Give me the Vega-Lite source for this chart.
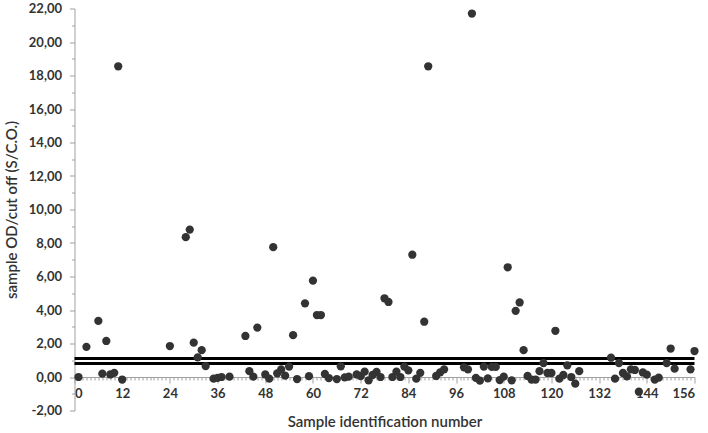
{
  "$schema": "https://vega.github.io/schema/vega-lite/v6.json",
  "width": 620,
  "height": 402,
  "autosize": {"type": "none"},
  "padding": {"left": 74.5, "top": 8.5, "right": 13.5, "bottom": 22.5},
  "background": "white",
  "config": {
    "locale": {"number": {"decimal": ",", "thousands": ".", "grouping": [3], "currency": ["", " €"], "minus": "-"}},
    "view": {"stroke": null},
    "font": "Lato",
    "axis": {
      "grid": false,
      "domainColor": "#a0a0a0",
      "domainWidth": 1,
      "tickColor": "#a0a0a0",
      "labelFont": "Lato",
      "labelFontSize": 13,
      "labelFontWeight": "bold",
      "labelColor": "#333333",
      "titleFont": "Lato",
      "titleFontSize": 15,
      "titleFontWeight": 600,
      "titleColor": "#333333"
    }
  },
  "datasets": {
    "samples": [
      {"id": 1, "v": 0.0}, {"id": 3, "v": 1.8}, {"id": 6, "v": 3.35}, {"id": 7, "v": 0.2}, {"id": 8, "v": 2.15},
      {"id": 9, "v": 0.15}, {"id": 10, "v": 0.25}, {"id": 11, "v": 18.55}, {"id": 12, "v": -0.15}, {"id": 24, "v": 1.85},
      {"id": 28, "v": 8.35}, {"id": 29, "v": 8.8}, {"id": 30, "v": 2.05}, {"id": 31, "v": 1.17}, {"id": 32, "v": 1.6},
      {"id": 33, "v": 0.65}, {"id": 35, "v": -0.1}, {"id": 36, "v": -0.05}, {"id": 37, "v": 0.0}, {"id": 39, "v": 0.02},
      {"id": 43, "v": 2.45}, {"id": 44, "v": 0.35}, {"id": 45, "v": 0.02}, {"id": 46, "v": 2.95}, {"id": 48, "v": 0.15},
      {"id": 49, "v": -0.1}, {"id": 50, "v": 7.75}, {"id": 51, "v": 0.22}, {"id": 52, "v": 0.45}, {"id": 53, "v": 0.08},
      {"id": 54, "v": 0.62}, {"id": 55, "v": 2.5}, {"id": 56, "v": -0.12}, {"id": 58, "v": 4.4}, {"id": 59, "v": 0.05},
      {"id": 60, "v": 5.75}, {"id": 61, "v": 3.7}, {"id": 62, "v": 3.7}, {"id": 63, "v": 0.18}, {"id": 64, "v": -0.06},
      {"id": 66, "v": -0.12}, {"id": 67, "v": 0.64}, {"id": 68, "v": -0.02}, {"id": 69, "v": 0.02}, {"id": 71, "v": 0.15},
      {"id": 72, "v": 0.05}, {"id": 73, "v": 0.32}, {"id": 74, "v": -0.2}, {"id": 75, "v": 0.12}, {"id": 76, "v": 0.3},
      {"id": 77, "v": 0.0}, {"id": 78, "v": 4.7}, {"id": 79, "v": 4.48}, {"id": 80, "v": 0.0}, {"id": 81, "v": 0.32},
      {"id": 82, "v": 0.0}, {"id": 83, "v": 0.62}, {"id": 84, "v": 0.4}, {"id": 85, "v": 7.3}, {"id": 86, "v": -0.1},
      {"id": 87, "v": 0.25}, {"id": 88, "v": 3.3}, {"id": 89, "v": 18.55}, {"id": 91, "v": 0.06}, {"id": 92, "v": 0.28},
      {"id": 93, "v": 0.46}, {"id": 98, "v": 0.58}, {"id": 99, "v": 0.46}, {"id": 100, "v": 21.7}, {"id": 101, "v": -0.05},
      {"id": 102, "v": -0.22}, {"id": 103, "v": 0.62}, {"id": 104, "v": -0.08}, {"id": 105, "v": 0.6}, {"id": 106, "v": 0.6},
      {"id": 107, "v": -0.18}, {"id": 108, "v": 0.02}, {"id": 109, "v": 6.55}, {"id": 110, "v": -0.2}, {"id": 111, "v": 3.95},
      {"id": 112, "v": 4.45}, {"id": 113, "v": 1.6}, {"id": 114, "v": 0.06}, {"id": 115, "v": -0.15}, {"id": 116, "v": -0.15},
      {"id": 117, "v": 0.35}, {"id": 118, "v": 0.83}, {"id": 119, "v": 0.24}, {"id": 120, "v": 0.24}, {"id": 121, "v": 2.76},
      {"id": 122, "v": -0.1}, {"id": 123, "v": 0.12}, {"id": 124, "v": 0.7}, {"id": 125, "v": 0.0}, {"id": 126, "v": -0.4},
      {"id": 127, "v": 0.35}, {"id": 135, "v": 1.15}, {"id": 136, "v": -0.1}, {"id": 137, "v": 0.83}, {"id": 138, "v": 0.24},
      {"id": 139, "v": 0.04}, {"id": 140, "v": 0.46}, {"id": 141, "v": 0.42}, {"id": 142, "v": -0.88}, {"id": 143, "v": 0.27},
      {"id": 144, "v": 0.14}, {"id": 146, "v": -0.15}, {"id": 147, "v": -0.04}, {"id": 149, "v": 0.83}, {"id": 150, "v": 1.7},
      {"id": 151, "v": 0.5}, {"id": 155, "v": 0.46}, {"id": 156, "v": 1.55}
    ],
    "cutoff": [{"level": 0.8}, {"level": 1.1}]
  },
  "layer": [
    {
      "data": {"name": "cutoff"},
      "mark": {"type": "rule", "color": "black", "strokeWidth": 3},
      "encoding": {
        "y": {
          "field": "level", "type": "quantitative",
          "scale": {"domain": [-2, 22], "nice": false, "zero": false},
          "axis": {
            "title": "sample OD/cut off (S/C.O.)",
            "titlePadding": 9,
            "values": [-2,-1,0,1,2,3,4,5,6,7,8,9,10,11,12,13,14,15,16,17,18,19,20,21,22],
            "format": ".2f",
            "labelExpr": "datum.value % 2 === 0 ? datum.label : ''",
            "labelOverlap": false,
            "labelPadding": 8,
            "tickSize": {"condition": {"test": "datum.value % 2 === 0", "value": 5}, "value": 3}
          }
        }
      }
    },
    {
      "data": {"name": "samples"},
      "mark": {"type": "circle", "size": 68, "color": "#333333", "opacity": 1},
      "encoding": {
        "x": {
          "field": "id", "type": "quantitative",
          "scale": {"domain": [0, 156], "nice": false, "zero": false},
          "axis": {
            "title": "Sample identification number",
            "titlePadding": 14,
            "values": [0,1,2,3,4,5,6,7,8,9,10,11,12,13,14,15,16,17,18,19,20,21,22,23,24,25,26,27,28,29,30,31,32,33,34,35,36,37,38,39,40,41,42,43,44,45,46,47,48,49,50,51,52,53,54,55,56,57,58,59,60,61,62,63,64,65,66,67,68,69,70,71,72,73,74,75,76,77,78,79,80,81,82,83,84,85,86,87,88,89,90,91,92,93,94,95,96,97,98,99,100,101,102,103,104,105,106,107,108,109,110,111,112,113,114,115,116,117,118,119,120,121,122,123,124,125,126,127,128,129,130,131,132,133,134,135,136,137,138,139,140,141,142,143,144,145,146,147,148,149,150,151,152,153,154,155,156],
            "labelExpr": "datum.value % 12 === 0 ? datum.value : ''",
            "labelOverlap": false,
            "labelPadding": 4,
            "offset": -33.5,
            "tickSize": {"condition": {"test": "datum.value % 12 === 0", "value": 6}, "value": 3}
          }
        },
        "y": {
          "field": "v", "type": "quantitative",
          "scale": {"domain": [-2, 22], "nice": false, "zero": false},
          "axis": {
            "title": "sample OD/cut off (S/C.O.)",
            "titlePadding": 9,
            "values": [-2,-1,0,1,2,3,4,5,6,7,8,9,10,11,12,13,14,15,16,17,18,19,20,21,22],
            "format": ".2f",
            "labelExpr": "datum.value % 2 === 0 ? datum.label : ''",
            "labelOverlap": false,
            "labelPadding": 8,
            "tickSize": {"condition": {"test": "datum.value % 2 === 0", "value": 5}, "value": 3}
          }
        }
      }
    }
  ]
}
